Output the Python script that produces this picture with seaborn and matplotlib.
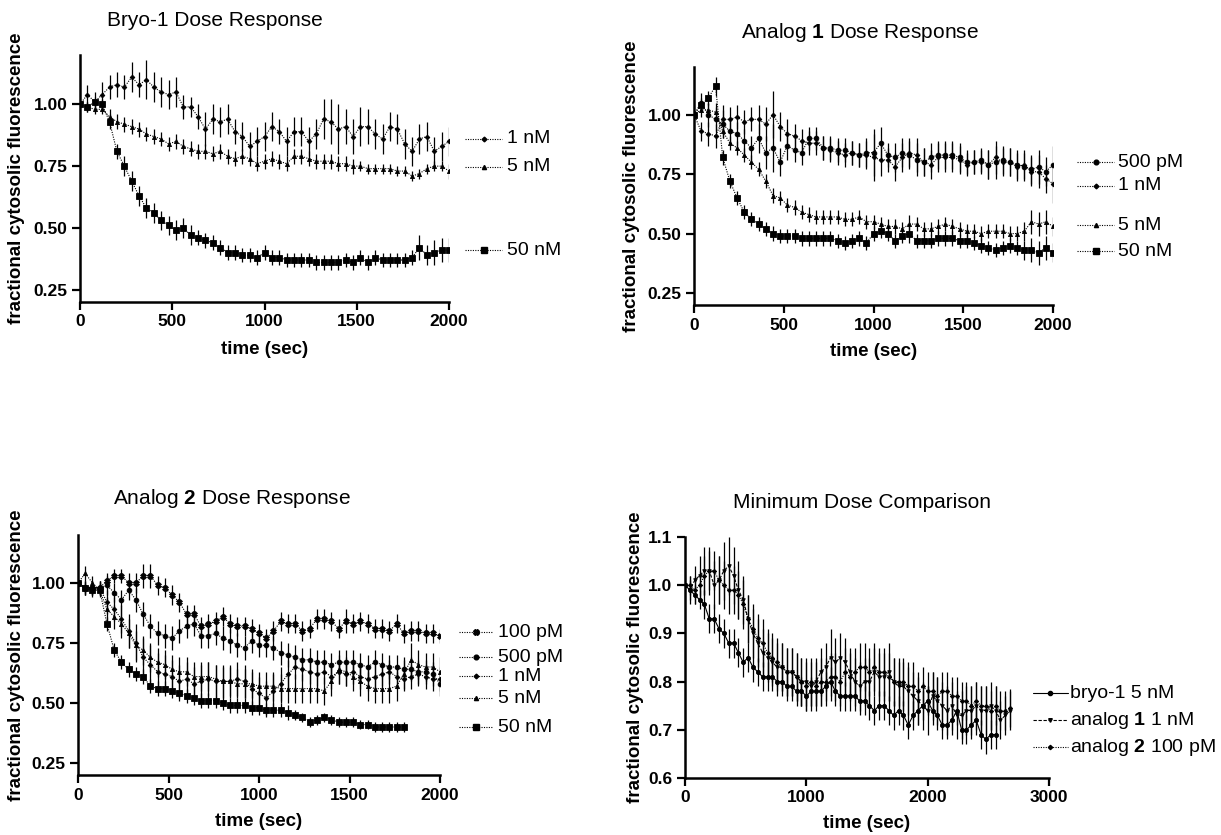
import numpy as np
import matplotlib
matplotlib.use("Agg")
import matplotlib.pyplot as plt
import matplotlib.transforms as mtransforms
from matplotlib.lines import Line2D
import seaborn as sns

# ---------------- data ----------------
t_2000 = np.arange(0, 2001, 40)
t_1800 = np.arange(0, 1801, 40)
t_bryo = np.arange(0, 2561, 40)
t_2680 = np.arange(0, 2681, 40)

# panel A: bryo-1
bryo_1nM = [1.00, 1.04, 1.01, 1.04, 1.07, 1.08, 1.07, 1.11, 1.08, 1.10, 1.07, 1.05, 1.04, 1.05, 0.99, 0.99,
            0.95, 0.90, 0.94, 0.93, 0.94, 0.89, 0.87, 0.83, 0.85, 0.87, 0.91, 0.89, 0.85, 0.89, 0.89, 0.85,
            0.88, 0.94, 0.93, 0.90, 0.91, 0.87, 0.91, 0.91, 0.88, 0.86, 0.91, 0.90, 0.84, 0.81, 0.86, 0.87,
            0.81, 0.83, 0.85]
bryo_1nM_err = [0.00, 0.04, 0.04, 0.05, 0.05, 0.05, 0.05, 0.06, 0.05, 0.08, 0.06, 0.06, 0.06, 0.06, 0.05, 0.04,
                0.05, 0.07, 0.06, 0.06, 0.06, 0.05, 0.06, 0.06, 0.06, 0.06, 0.06, 0.05, 0.06, 0.06, 0.06, 0.06,
                0.06, 0.08, 0.09, 0.10, 0.07, 0.07, 0.08, 0.07, 0.06, 0.06, 0.06, 0.06, 0.06, 0.06, 0.06, 0.06,
                0.06, 0.06, 0.06]
bryo_5nM = [1.00, 0.99, 0.98, 0.98, 0.95, 0.93, 0.92, 0.91, 0.90, 0.88, 0.87, 0.86, 0.84, 0.85, 0.83, 0.82,
            0.81, 0.81, 0.80, 0.81, 0.79, 0.78, 0.79, 0.78, 0.76, 0.77, 0.78, 0.77, 0.76, 0.79, 0.79, 0.78,
            0.77, 0.77, 0.77, 0.76, 0.76, 0.75, 0.75, 0.74, 0.74, 0.74, 0.74, 0.73, 0.73, 0.71, 0.72, 0.74,
            0.75, 0.75, 0.73]
bryo_5nM_err = [0.00, 0.02, 0.02, 0.02, 0.03, 0.03, 0.03, 0.03, 0.03, 0.03, 0.03, 0.03, 0.03, 0.03, 0.03, 0.03,
                0.03, 0.03, 0.03, 0.03, 0.03, 0.03, 0.03, 0.03, 0.03, 0.03, 0.03, 0.03, 0.03, 0.03, 0.03, 0.03,
                0.03, 0.03, 0.03, 0.03, 0.03, 0.03, 0.02, 0.02, 0.02, 0.02, 0.02, 0.02, 0.02, 0.02, 0.02, 0.02,
                0.02, 0.02, 0.03]
bryo_50nM = [1.00, 0.99, 1.01, 1.00, 0.93, 0.81, 0.75, 0.69, 0.63, 0.58, 0.56, 0.53, 0.51, 0.49, 0.50, 0.47,
             0.46, 0.45, 0.44, 0.42, 0.40, 0.40, 0.39, 0.39, 0.38, 0.40, 0.38, 0.38, 0.37, 0.37, 0.37, 0.37,
             0.36, 0.36, 0.36, 0.36, 0.37, 0.36, 0.38, 0.36, 0.38, 0.37, 0.37, 0.37, 0.37, 0.38, 0.42, 0.39,
             0.40, 0.41, 0.41]
bryo_50nM_err = [0.00, 0.02, 0.02, 0.02, 0.03, 0.03, 0.04, 0.04, 0.04, 0.04, 0.04, 0.04, 0.04, 0.04, 0.04, 0.04,
                 0.03, 0.03, 0.03, 0.03, 0.03, 0.03, 0.03, 0.03, 0.03, 0.03, 0.03, 0.03, 0.03, 0.03, 0.03, 0.03,
                 0.03, 0.03, 0.03, 0.03, 0.03, 0.03, 0.03, 0.03, 0.03, 0.03, 0.03, 0.03, 0.03, 0.03, 0.05, 0.04,
                 0.05, 0.05, 0.05]

# panel B: analog 1
a1_500pM = [1.00, 1.05, 1.00, 0.98, 0.96, 0.93, 0.92, 0.89, 0.86, 0.90, 0.84, 0.86, 0.80, 0.87, 0.85, 0.84,
            0.90, 0.90, 0.86, 0.86, 0.85, 0.85, 0.84, 0.83, 0.84, 0.84, 0.88, 0.83, 0.82, 0.84, 0.83, 0.81,
            0.80, 0.82, 0.83, 0.83, 0.83, 0.82, 0.80, 0.80, 0.81, 0.79, 0.80, 0.81, 0.80, 0.79, 0.78, 0.77,
            0.78, 0.76, 0.79]
a1_1nM = [1.00, 0.93, 0.92, 0.91, 0.98, 0.98, 0.99, 0.97, 0.98, 0.98, 0.96, 1.00, 0.95, 0.92, 0.91, 0.89,
          0.88, 0.88, 0.86, 0.85, 0.84, 0.83, 0.84, 0.83, 0.83, 0.82, 0.81, 0.81, 0.78, 0.82, 0.84, 0.83,
          0.80, 0.79, 0.82, 0.82, 0.82, 0.81, 0.79, 0.80, 0.80, 0.79, 0.82, 0.80, 0.80, 0.78, 0.79, 0.76,
          0.76, 0.73, 0.71]
a1_upper_err = [0.00, 0.04, 0.05, 0.05, 0.06, 0.05, 0.05, 0.05, 0.05, 0.06, 0.07, 0.10, 0.06, 0.06, 0.05, 0.05,
                0.05, 0.05, 0.05, 0.05, 0.05, 0.05, 0.05, 0.05, 0.06, 0.10, 0.07, 0.05, 0.06, 0.06, 0.06, 0.07,
                0.06, 0.06, 0.06, 0.06, 0.06, 0.06, 0.05, 0.05, 0.05, 0.06, 0.07, 0.06, 0.06, 0.06, 0.06, 0.06,
                0.07, 0.06, 0.08]
a1_5nM = [1.00, 1.02, 1.02, 1.01, 0.93, 0.88, 0.86, 0.83, 0.80, 0.77, 0.72, 0.66, 0.65, 0.62, 0.61, 0.59,
          0.58, 0.57, 0.57, 0.57, 0.57, 0.56, 0.56, 0.57, 0.55, 0.55, 0.54, 0.53, 0.53, 0.52, 0.54, 0.54,
          0.52, 0.52, 0.53, 0.54, 0.53, 0.52, 0.51, 0.51, 0.50, 0.51, 0.51, 0.51, 0.50, 0.50, 0.51, 0.55,
          0.54, 0.55, 0.53]
a1_50nM = [1.00, 1.04, 1.07, 1.12, 0.82, 0.72, 0.65, 0.59, 0.56, 0.54, 0.52, 0.50, 0.49, 0.49, 0.49, 0.48,
           0.48, 0.48, 0.48, 0.48, 0.47, 0.46, 0.47, 0.48, 0.46, 0.50, 0.51, 0.50, 0.47, 0.49, 0.50, 0.47,
           0.47, 0.47, 0.48, 0.48, 0.48, 0.47, 0.47, 0.46, 0.45, 0.44, 0.43, 0.44, 0.45, 0.44, 0.43, 0.43,
           0.42, 0.44, 0.42]
a1_lower_err = [0.00, 0.03, 0.03, 0.04, 0.03, 0.03, 0.03, 0.03, 0.03, 0.03, 0.03, 0.03, 0.03, 0.03, 0.03, 0.03,
                0.03, 0.03, 0.03, 0.03, 0.03, 0.03, 0.03, 0.03, 0.03, 0.03, 0.03, 0.03, 0.03, 0.03, 0.04, 0.03,
                0.03, 0.03, 0.03, 0.03, 0.03, 0.03, 0.03, 0.03, 0.03, 0.03, 0.03, 0.03, 0.03, 0.03, 0.04, 0.05,
                0.05, 0.05, 0.04]

# panel C: analog 2
a2_100pM = [1.00, 0.98, 0.98, 0.98, 1.01, 1.03, 1.03, 1.00, 1.00, 1.03, 1.03, 0.99, 0.98, 0.95, 0.92, 0.87,
            0.87, 0.82, 0.83, 0.84, 0.86, 0.83, 0.82, 0.82, 0.81, 0.79, 0.77, 0.80, 0.84, 0.83, 0.83, 0.80,
            0.81, 0.85, 0.85, 0.84, 0.81, 0.84, 0.83, 0.84, 0.83, 0.81, 0.81, 0.80, 0.83, 0.79, 0.80, 0.80,
            0.79, 0.79, 0.78]
a2_100pM_err = [0.00, 0.03, 0.03, 0.03, 0.03, 0.03, 0.03, 0.04, 0.04, 0.05, 0.05, 0.04, 0.04, 0.04, 0.04, 0.04,
                0.04, 0.04, 0.04, 0.04, 0.04, 0.04, 0.04, 0.04, 0.04, 0.04, 0.04, 0.04, 0.04, 0.04, 0.04, 0.04,
                0.04, 0.04, 0.04, 0.04, 0.04, 0.05, 0.04, 0.04, 0.04, 0.04, 0.04, 0.04, 0.04, 0.04, 0.04, 0.04,
                0.04, 0.04, 0.03]
a2_500pM = [1.00, 0.98, 0.98, 0.98, 0.99, 0.96, 0.93, 0.97, 0.93, 0.87, 0.82, 0.79, 0.78, 0.77, 0.80, 0.82,
            0.83, 0.78, 0.78, 0.79, 0.77, 0.76, 0.74, 0.73, 0.76, 0.74, 0.74, 0.73, 0.71, 0.70, 0.69, 0.68,
            0.68, 0.67, 0.67, 0.66, 0.67, 0.67, 0.67, 0.66, 0.65, 0.67, 0.66, 0.65, 0.65, 0.64, 0.64, 0.63,
            0.63, 0.62, 0.58]
a2_500pM_err = [0.00, 0.03, 0.03, 0.03, 0.04, 0.04, 0.04, 0.04, 0.05, 0.05, 0.05, 0.05, 0.05, 0.05, 0.05, 0.05,
                0.05, 0.05, 0.05, 0.05, 0.05, 0.05, 0.05, 0.05, 0.05, 0.05, 0.05, 0.05, 0.05, 0.05, 0.05, 0.05,
                0.05, 0.05, 0.05, 0.05, 0.05, 0.05, 0.05, 0.05, 0.05, 0.05, 0.05, 0.05, 0.05, 0.05, 0.05, 0.05,
                0.05, 0.05, 0.05]
a2_1nM = [1.00, 0.98, 0.97, 0.98, 0.92, 0.89, 0.85, 0.80, 0.75, 0.69, 0.66, 0.63, 0.62, 0.61, 0.59, 0.60,
          0.58, 0.59, 0.60, 0.59, 0.59, 0.59, 0.60, 0.59, 0.56, 0.54, 0.52, 0.55, 0.58, 0.62, 0.65, 0.64,
          0.63, 0.62, 0.63, 0.61, 0.63, 0.62, 0.63, 0.61, 0.60, 0.61, 0.62, 0.63, 0.61, 0.60, 0.61, 0.62,
          0.61, 0.60, 0.60]
a2_1nM_err = [0.00, 0.03, 0.03, 0.03, 0.05, 0.05, 0.06, 0.07, 0.08, 0.08, 0.08, 0.08, 0.08, 0.07, 0.07, 0.07,
              0.07, 0.07, 0.07, 0.07, 0.07, 0.07, 0.07, 0.07, 0.07, 0.07, 0.07, 0.07, 0.07, 0.06, 0.05, 0.05,
              0.05, 0.05, 0.05, 0.05, 0.05, 0.05, 0.05, 0.05, 0.05, 0.05, 0.05, 0.05, 0.05, 0.05, 0.05, 0.05,
              0.05, 0.05, 0.05]
a2_5nM = [1.00, 1.04, 1.00, 0.97, 0.89, 0.86, 0.83, 0.79, 0.74, 0.72, 0.69, 0.67, 0.66, 0.64, 0.63, 0.63,
          0.61, 0.61, 0.61, 0.60, 0.59, 0.59, 0.58, 0.58, 0.58, 0.57, 0.57, 0.57, 0.56, 0.56, 0.56, 0.56,
          0.56, 0.56, 0.55, 0.59, 0.64, 0.63, 0.61, 0.59, 0.57, 0.56, 0.56, 0.56, 0.57, 0.62, 0.68, 0.66,
          0.65, 0.65, 0.63]
a2_5nM_err = [0.00, 0.03, 0.03, 0.03, 0.05, 0.05, 0.06, 0.06, 0.06, 0.06, 0.06, 0.06, 0.06, 0.06, 0.06, 0.06,
              0.06, 0.06, 0.06, 0.06, 0.06, 0.06, 0.06, 0.06, 0.06, 0.06, 0.06, 0.06, 0.06, 0.06, 0.06, 0.06,
              0.06, 0.06, 0.06, 0.06, 0.06, 0.06, 0.06, 0.06, 0.06, 0.06, 0.06, 0.06, 0.06, 0.06, 0.07, 0.06,
              0.06, 0.06, 0.06]
a2_50nM = [1.00, 0.98, 0.97, 0.97, 0.83, 0.72, 0.67, 0.64, 0.62, 0.61, 0.57, 0.56, 0.56, 0.55, 0.54, 0.53,
           0.52, 0.51, 0.51, 0.51, 0.50, 0.49, 0.49, 0.49, 0.48, 0.48, 0.47, 0.47, 0.47, 0.46, 0.45, 0.44,
           0.42, 0.43, 0.44, 0.43, 0.42, 0.42, 0.42, 0.41, 0.41, 0.40, 0.40, 0.40, 0.40, 0.40]
a2_50nM_err = [0.00, 0.02, 0.02, 0.02, 0.03, 0.03, 0.03, 0.03, 0.03, 0.03, 0.03, 0.03, 0.03, 0.03, 0.03, 0.03,
               0.03, 0.03, 0.03, 0.03, 0.03, 0.03, 0.03, 0.03, 0.03, 0.03, 0.03, 0.03, 0.03, 0.03, 0.02, 0.02,
               0.02, 0.02, 0.02, 0.02, 0.02, 0.02, 0.02, 0.02, 0.02, 0.02, 0.02, 0.02, 0.02, 0.02]

# panel D: minimum doses
min_bryo = [1.00, 0.99, 0.98, 0.97, 0.96, 0.93, 0.93, 0.91, 0.90, 0.88, 0.88, 0.86, 0.84, 0.85, 0.83, 0.82,
            0.81, 0.81, 0.81, 0.80, 0.80, 0.79, 0.79, 0.78, 0.78, 0.77, 0.78, 0.78, 0.78, 0.79, 0.80, 0.78,
            0.77, 0.77, 0.77, 0.77, 0.76, 0.76, 0.75, 0.74, 0.75, 0.75, 0.74, 0.73, 0.74, 0.73, 0.71, 0.73,
            0.74, 0.75, 0.76, 0.74, 0.73, 0.71, 0.71, 0.72, 0.74, 0.70, 0.70, 0.71, 0.72, 0.69, 0.68, 0.69,
            0.69]
min_bryo_err = [0.00, 0.02, 0.02, 0.02, 0.03, 0.03, 0.03, 0.03, 0.03, 0.03, 0.03, 0.03, 0.03, 0.03, 0.03, 0.03,
                0.03, 0.03, 0.03, 0.03, 0.03, 0.03, 0.03, 0.03, 0.03, 0.03, 0.03, 0.03, 0.03, 0.03, 0.03, 0.03,
                0.03, 0.03, 0.03, 0.03, 0.03, 0.03, 0.03, 0.03, 0.03, 0.03, 0.03, 0.03, 0.03, 0.03, 0.03, 0.03,
                0.03, 0.03, 0.03, 0.03, 0.03, 0.03, 0.03, 0.03, 0.03, 0.03, 0.03, 0.03, 0.03, 0.03, 0.03, 0.03,
                0.03]
min_a1 = [1.00, 0.99, 1.01, 1.02, 1.03, 1.03, 1.00, 1.01, 1.03, 1.04, 1.02, 0.99, 0.97, 0.93, 0.90, 0.88,
          0.86, 0.85, 0.84, 0.83, 0.83, 0.82, 0.82, 0.81, 0.80, 0.80, 0.79, 0.80, 0.82, 0.83, 0.85, 0.84,
          0.85, 0.84, 0.82, 0.80, 0.79, 0.80, 0.80, 0.82, 0.81, 0.81, 0.82, 0.80, 0.79, 0.79, 0.78, 0.77,
          0.76, 0.75, 0.74, 0.77, 0.76, 0.75, 0.74, 0.75, 0.73, 0.73, 0.74, 0.74, 0.75, 0.74, 0.74, 0.75,
          0.74, 0.72, 0.73, 0.74]
min_a1_err = [0.00, 0.03, 0.03, 0.04, 0.05, 0.05, 0.05, 0.05, 0.06, 0.06, 0.06, 0.06, 0.05, 0.05, 0.05, 0.05,
              0.05, 0.05, 0.05, 0.05, 0.05, 0.05, 0.05, 0.05, 0.05, 0.05, 0.05, 0.05, 0.05, 0.05, 0.06, 0.05,
              0.05, 0.05, 0.05, 0.05, 0.05, 0.05, 0.05, 0.05, 0.05, 0.05, 0.06, 0.05, 0.05, 0.05, 0.05, 0.05,
              0.05, 0.05, 0.05, 0.05, 0.05, 0.05, 0.05, 0.05, 0.05, 0.05, 0.05, 0.05, 0.05, 0.05, 0.05, 0.05,
              0.05, 0.04, 0.04, 0.04]
min_a2 = [1.00, 1.00, 0.99, 1.00, 1.02, 1.03, 1.03, 1.01, 1.00, 0.99, 0.99, 0.98, 0.96, 0.93, 0.91, 0.89,
          0.88, 0.86, 0.85, 0.84, 0.83, 0.82, 0.82, 0.81, 0.80, 0.79, 0.80, 0.79, 0.80, 0.80, 0.81, 0.81,
          0.80, 0.82, 0.81, 0.82, 0.83, 0.83, 0.82, 0.83, 0.82, 0.82, 0.81, 0.80, 0.80, 0.80, 0.79, 0.79,
          0.78, 0.79, 0.78, 0.78, 0.77, 0.78, 0.78, 0.77, 0.77, 0.76, 0.76, 0.75, 0.76, 0.75, 0.75, 0.74,
          0.75, 0.74, 0.74, 0.745]
min_a2_err = [0.00, 0.02, 0.03, 0.03, 0.04, 0.04, 0.04, 0.05, 0.05, 0.05, 0.05, 0.05, 0.05, 0.05, 0.05, 0.05,
              0.05, 0.05, 0.05, 0.05, 0.05, 0.05, 0.05, 0.05, 0.05, 0.05, 0.05, 0.05, 0.05, 0.05, 0.05, 0.05,
              0.05, 0.05, 0.05, 0.05, 0.05, 0.05, 0.05, 0.05, 0.05, 0.05, 0.05, 0.05, 0.05, 0.05, 0.05, 0.05,
              0.04, 0.04, 0.04, 0.04, 0.04, 0.04, 0.04, 0.04, 0.04, 0.04, 0.04, 0.04, 0.04, 0.04, 0.04, 0.04,
              0.04, 0.04, 0.04, 0.04]

# ---------------- style ----------------
sns.set_theme(style="ticks")
plt.rcParams['font.family'] = ['Liberation Sans', 'DejaVu Sans']
plt.rcParams['mathtext.fontset'] = 'custom'
plt.rcParams['mathtext.rm'] = 'Liberation Sans'
plt.rcParams['mathtext.bf'] = 'Liberation Sans:bold'
for key in ['text.color', 'axes.labelcolor', 'xtick.color', 'ytick.color', 'axes.edgecolor']:
    plt.rcParams[key] = 'black'

W, H = 1221, 835
fig = plt.figure(figsize=(W / 100, H / 100), dpi=100)
fig.patch.set_facecolor('white')


def make_axes(box):
    left, top, right, bottom = box
    return fig.add_axes([left / W, 1 - bottom / H, (right - left) / W, (bottom - top) / H])


def draw(ax, t, y, err, marker, ms, ls):
    ax.errorbar(t, y, yerr=err, fmt='none', ecolor='black', elinewidth=0.9, capsize=0, zorder=2)
    sns.lineplot(x=t, y=y, ax=ax, color='black', marker=marker, markersize=ms,
                 markeredgecolor='black', markeredgewidth=0.6, linestyle=ls,
                 linewidth=0.8, zorder=3)


def legend_entry(ax, x0, x1, y, marker, ms, ls, label, xt):
    trans = mtransforms.blended_transform_factory(ax.transAxes, ax.transData)
    ax.add_line(Line2D([x0, x1], [y, y], transform=trans, color='black',
                       linestyle=ls, linewidth=0.8, clip_on=False))
    ax.add_line(Line2D([(x0 + x1) / 2], [y], transform=trans, color='black',
                       marker=marker, markersize=ms, clip_on=False))
    ax.text(xt, y, label, transform=trans, fontsize=14, va='center', ha='left', color='black')


def style_axes(ax, box, xticks, yticks, ylim, xlim, yfmt, ylab_px, xlab_px):
    left, top, right, bottom = box
    ax.set_xlim(*xlim)
    ax.set_ylim(*ylim)
    ax.set_xticks(xticks)
    ax.set_yticks(yticks)
    ax.set_yticklabels([yfmt.format(v) for v in yticks])
    ax.set_xticklabels([str(v) for v in xticks])
    sns.despine(ax=ax)
    for s in ['left', 'bottom']:
        ax.spines[s].set_linewidth(1.8)
        ax.spines[s].set_color('black')
    ax.tick_params(axis='both', direction='out', length=6, width=1.6, color='black',
                   labelcolor='black', labelsize=12.5, pad=3)
    for lab in ax.get_xticklabels() + ax.get_yticklabels():
        lab.set_fontweight('bold')
    ax.set_xlabel('time (sec)', fontsize=13.5, fontweight='bold', va='center', color='black')
    ax.set_ylabel('fractional cytosolic fluorescence', fontsize=13.5, fontweight='bold',
                  va='center', color='black')
    # place labels at pixel positions measured on the reference
    ax.xaxis.set_label_coords(0.5, (bottom - xlab_px) / (bottom - top))
    ax.yaxis.set_label_coords((ylab_px - left) / (right - left), 0.5)
    ax.set_facecolor('white')
    ax.grid(False)


dot = (0, (1, 1.2))
dash = (0, (3, 1.5))
ticks_2000 = [0, 500, 1000, 1500, 2000]
yt_frac = [0.25, 0.50, 0.75, 1.00]

# ---- panel A
boxA = (80, 55, 449, 302)
axA = make_axes(boxA)
draw(axA, t_2000, bryo_1nM, bryo_1nM_err, 'D', 2.4, dot)
draw(axA, t_2000, bryo_5nM, bryo_5nM_err, '^', 3.0, dot)
draw(axA, t_2000, bryo_50nM, bryo_50nM_err, 's', 3.8, dot)
style_axes(axA, boxA, ticks_2000, yt_frac, (0.2, 1.2), (0, 2000), '{:.2f}', 17, 350)
legend_entry(axA, 1.043, 1.144, 0.86, 'D', 2.4, dot, '1 nM', 1.157)
legend_entry(axA, 1.043, 1.144, 0.747, '^', 3.0, dot, '5 nM', 1.157)
legend_entry(axA, 1.043, 1.144, 0.41, 's', 3.8, dot, '50 nM', 1.157)

# ---- panel B
boxB = (694, 67, 1053, 305)
axB = make_axes(boxB)
draw(axB, t_2000, a1_500pM, a1_upper_err, 'o', 3.4, dot)
draw(axB, t_2000, a1_1nM, a1_upper_err, 'D', 2.4, dot)
draw(axB, t_2000, a1_5nM, a1_lower_err, '^', 3.0, dot)
draw(axB, t_2000, a1_50nM, a1_lower_err, 's', 3.8, dot)
style_axes(axB, boxB, ticks_2000, yt_frac, (0.2, 1.2), (0, 2000), '{:.2f}', 632, 352)
legend_entry(axB, 1.067, 1.170, 0.80, 'o', 3.4, dot, '500 pM', 1.181)
legend_entry(axB, 1.067, 1.170, 0.70, 'D', 2.4, dot, '1 nM', 1.181)
legend_entry(axB, 1.067, 1.170, 0.535, '^', 3.0, dot, '5 nM', 1.181)
legend_entry(axB, 1.067, 1.170, 0.426, 's', 3.8, dot, '50 nM', 1.181)

# ---- panel C
boxC = (78, 535, 440, 775)
axC = make_axes(boxC)
draw(axC, t_2000, a2_100pM, a2_100pM_err, 'X', 4.2, dot)
draw(axC, t_2000, a2_500pM, a2_500pM_err, 'o', 3.4, dot)
draw(axC, t_2000, a2_1nM, a2_1nM_err, 'D', 2.4, dot)
draw(axC, t_2000, a2_5nM, a2_5nM_err, '^', 3.0, dot)
draw(axC, t_1800, a2_50nM, a2_50nM_err, 's', 3.8, dot)
style_axes(axC, boxC, ticks_2000, yt_frac, (0.2, 1.2), (0, 2000), '{:.2f}', 17, 822)
legend_entry(axC, 1.052, 1.146, 0.794, 'X', 4.2, dot, '100 pM', 1.160)
legend_entry(axC, 1.052, 1.146, 0.69, 'o', 3.4, dot, '500 pM', 1.160)
legend_entry(axC, 1.052, 1.146, 0.611, 'D', 2.4, dot, '1 nM', 1.160)
legend_entry(axC, 1.052, 1.146, 0.52, '^', 3.0, dot, '5 nM', 1.160)
legend_entry(axC, 1.052, 1.146, 0.40, 's', 3.8, dot, '50 nM', 1.160)

# ---- panel D
boxD = (685, 537, 1049, 778)
axD = make_axes(boxD)
draw(axD, t_bryo, min_bryo, min_bryo_err, 'o', 3.0, '-')
draw(axD, t_2680, min_a1, min_a1_err, 'v', 2.6, dash)
draw(axD, t_2680, min_a2, min_a2_err, 'D', 2.2, dot)
style_axes(axD, boxD, [0, 1000, 2000, 3000], [0.6, 0.7, 0.8, 0.9, 1.0, 1.1], (0.6, 1.1), (0, 3000),
           '{:.1f}', 635, 823)
legend_entry(axD, 0.956, 1.052, 0.776, 'o', 3.0, '-', 'bryo-1 5 nM', 1.058)
legend_entry(axD, 0.956, 1.052, 0.72, 'v', 2.6, dash, r'analog $\mathbf{1}$ 1 nM', 1.058)
legend_entry(axD, 0.956, 1.052, 0.664, 'D', 2.2, dot, r'analog $\mathbf{2}$ 100 pM', 1.058)

titles = [('Bryo-1 Dose Response', 215, 20),
          (r'Analog $\mathbf{1}$ Dose Response', 860, 32),
          (r'Analog $\mathbf{2}$ Dose Response', 232, 499),
          ('Minimum Dose Comparison', 862, 502)]
for txt, x, y in titles:
    fig.text(x / W, 1 - y / H, txt, fontsize=15, ha='center', va='center', color='black')

fig.savefig('out.png', dpi=100, facecolor='white')
